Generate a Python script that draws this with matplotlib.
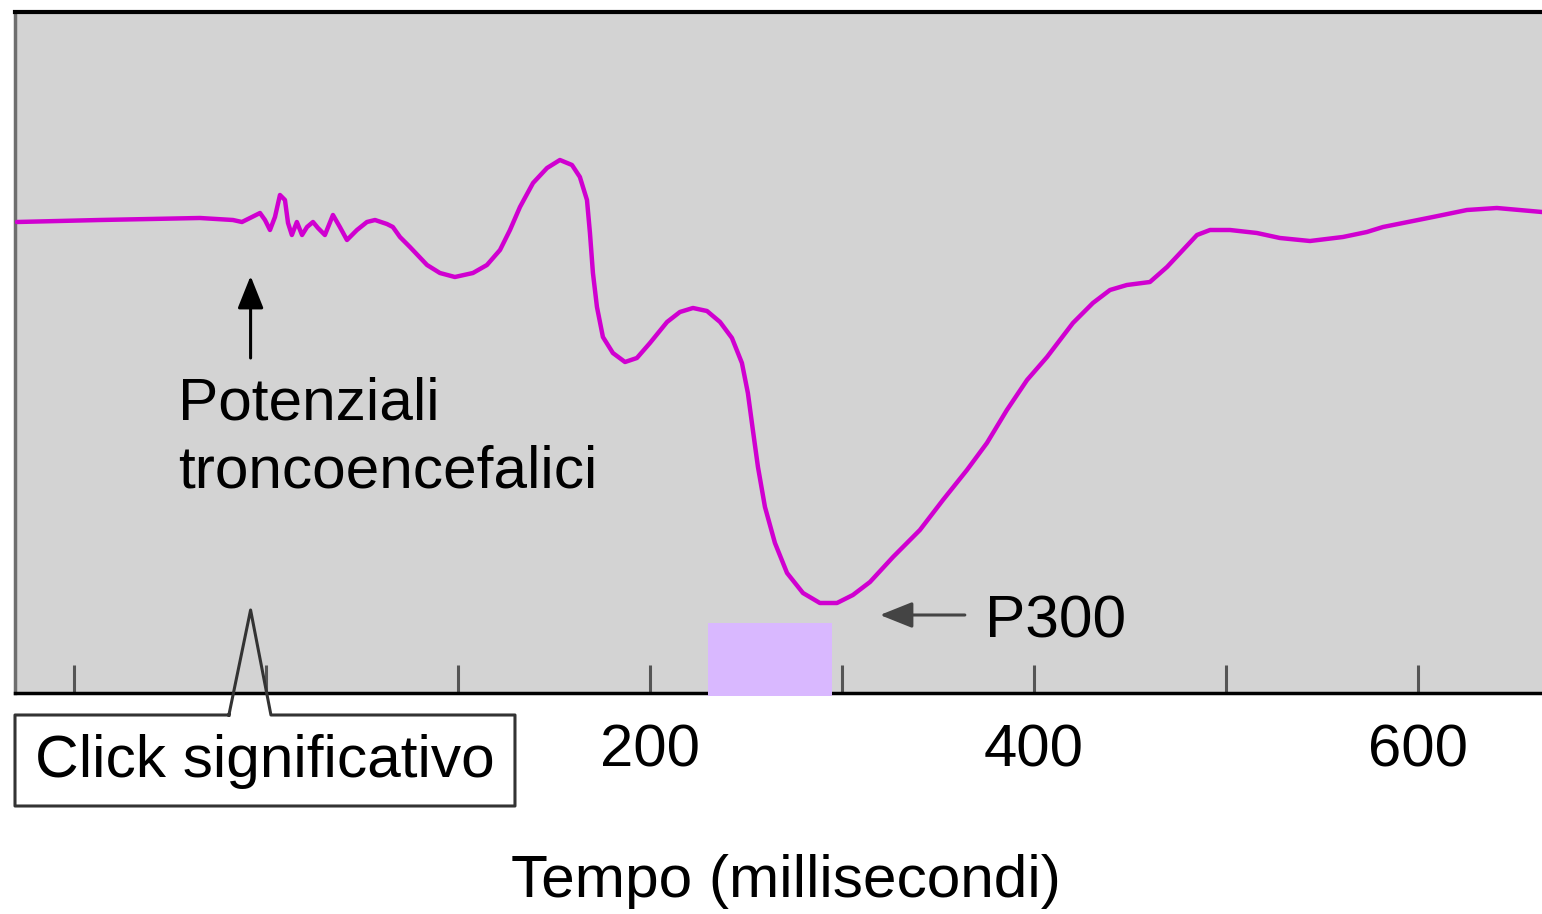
import matplotlib
matplotlib.use("Agg")
import matplotlib.pyplot as plt
from matplotlib.patches import Rectangle
from matplotlib.lines import Line2D

plt.rcParams['font.family'] = ['Liberation Sans', 'DejaVu Sans']

# ---- data (time in ms, amplitude in arbitrary units) ----
time_ms = [-129.7, -86.5, -34.4, -17.2, -12.5, -8.3, -3.1, -0.5, 2.1, 4.7, 7.3, 9.9,
           11.5, 13.5, 16.1, 18.8, 21.4, 24.5, 27.1, 30.7, 34.9, 38.5, 42.2, 47.4,
           52.6, 56.8, 63.0, 66.1, 69.8, 75.0, 83.9, 90.6, 98.4, 107.8, 115.1, 121.9,
           127.1, 132.3, 139.1, 146.4, 153.1, 159.4, 163.5, 167.2, 168.75, 170.3,
           172.4, 175.5, 180.7, 187.0, 193.2, 200.0, 208.9, 215.6, 222.4, 229.7,
           236.5, 242.7, 247.9, 251.0, 253.6, 256.25, 259.9, 265.1, 271.4, 279.7,
           288.5, 297.4, 305.7, 314.6, 326.6, 340.6, 352.6, 365.1, 375.5, 385.9,
           396.4, 406.8, 420.3, 430.7, 439.6, 448.4, 460.4, 469.3, 477.6, 484.9,
           491.7, 502.1, 516.1, 528.1, 543.75, 560.9, 573.4, 581.8, 607.8, 625.5,
           641.1, 664.6]
amplitude = [-0.05, 0, 0.05, 0, -0.05, 0.05, 0.175, 0, -0.25, 0.075, 0.625, 0.5,
             -0.075, -0.375, -0.05, -0.375, -0.175, -0.05, -0.2, -0.375, 0.125, -0.175,
             -0.5, -0.25, -0.05, 0, -0.1, -0.175, -0.425, -0.675, -1.125, -1.325,
             -1.425, -1.325, -1.125, -0.75, -0.25, 0.325, 0.925, 1.3, 1.5, 1.375,
             1.075, 0.5, -0.325, -1.325, -2.175, -2.925, -3.325, -3.55, -3.45, -3.075,
             -2.55, -2.3, -2.2, -2.275, -2.55, -2.95, -3.575, -4.325, -5.25, -6.175,
             -7.175, -8.075, -8.825, -9.325, -9.575, -9.575, -9.375, -9.05, -8.425,
             -7.75, -7.0, -6.25, -5.575, -4.75, -4.0, -3.425, -2.575, -2.075, -1.75,
             -1.625, -1.55, -1.175, -0.75, -0.375, -0.25, -0.25, -0.325, -0.45,
             -0.525, -0.425, -0.3, -0.175, 0.075, 0.25, 0.3, 0.2]

tick_positions = [-100, 0, 100, 200, 300, 400, 500, 600]
tick_labels = ['', '', '', '200', '', '400', '', '600']

p300_window = [230, 295]      # ms
click_time = -8               # ms

xlabel = 'Tempo (millisecondi)'

# ---- figure ----
fig = plt.figure(figsize=(15.42, 9.14), dpi=100)
ax = fig.add_axes([15/1542, (914-693)/914, 1 - 15/1542, (693-12)/914])
ax.set_facecolor('#d3d3d3')
ax.set_xlim(-130.7, 664.6)
ax.set_ylim(-11.825, 5.2)

ax.plot(time_ms, amplitude, color='#d000d0', lw=3.2, solid_joinstyle='round',
        solid_capstyle='round', zorder=3)

# P300 window (covers the bottom spine, as in the original)
ax.add_patch(Rectangle((p300_window[0], -11.9), p300_window[1] - p300_window[0],
                       -10.075 + 11.9, facecolor='#d9b8ff', edgecolor='none', zorder=4,
                       clip_on=False))

# spines
ax.spines['right'].set_visible(False)
ax.spines['top'].set_color('black')
ax.spines['top'].set_linewidth(3.0)
ax.spines['left'].set_color('#6e6e6e')
ax.spines['left'].set_linewidth(2.5)
ax.spines['bottom'].set_color('black')
ax.spines['bottom'].set_linewidth(2.5)

ax.set_xticks(tick_positions)
ax.set_xticklabels(tick_labels)
ax.tick_params(axis='x', direction='in', length=20, width=2.2, color='#555555',
               labelsize=43, pad=22)
ax.set_yticks([])

# annotations
ax.text(-45.8, -5.0, 'Potenziali', fontsize=43.5, ha='left', va='baseline')
ax.text(-45.8, -6.675, 'troncoencefalici', fontsize=43.5, ha='left', va='baseline')
ax.annotate('', xy=(click_time, -1.4), xytext=(click_time, -3.45),
            arrowprops=dict(arrowstyle='-|>,head_length=2.0,head_width=0.8',
                            lw=2.2, color='black', shrinkA=0, shrinkB=0))

ax.text(374.5, -10.45, 'P300', fontsize=43.5, ha='left', va='baseline')
ax.annotate('', xy=(319.8, -9.875), xytext=(364, -9.875),
            arrowprops=dict(arrowstyle='-|>,head_length=2.0,head_width=0.8',
                            lw=2.2, color='#444444', shrinkA=0, shrinkB=0))

# click label box with pointer
box_x = [-19.3, -130.7, -130.7, 129.7, 129.7, 2.6, click_time, -19.3]
box_y = [-12.375, -12.375, -14.65, -14.65, -12.375, -12.375, -9.75, -12.375]
ax.fill([-130.7, -130.7, 129.7, 129.7], [-12.375, -14.65, -14.65, -12.375],
        color='white', clip_on=False, zorder=4)
ax.add_line(Line2D(box_x, box_y, color='#333333', lw=2.2, clip_on=False, zorder=5))
ax.text(-0.5, -13.925, 'Click significativo', fontsize=43.5, ha='center',
        va='baseline', zorder=6)

fig.text(786/1542, (914-897)/914, xlabel, fontsize=43.5, ha='center', va='baseline')

fig.savefig('out.png', dpi=100, facecolor='white')
